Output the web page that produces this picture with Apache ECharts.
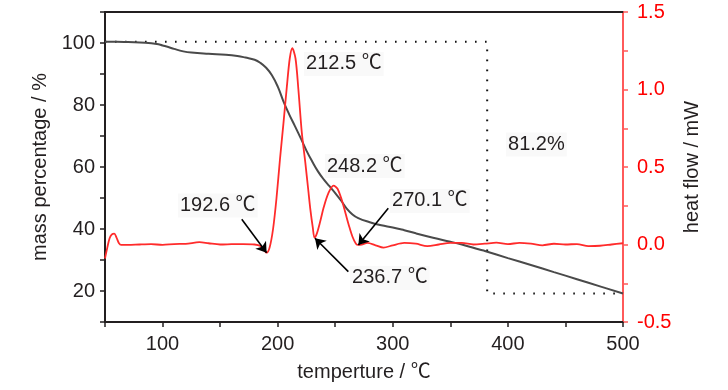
<!DOCTYPE html>
<html><head><meta charset="utf-8">
<script src="https://cdn.jsdelivr.net/npm/echarts@6/dist/echarts.min.js"></script>
<style>html,body{margin:0;padding:0;background:#fff}#c{width:728px;height:390px}</style>
</head><body><div id="c"></div>
<script>
// TG curve (mass percentage vs temperature)
const tgTemp = [50,60,70,85,95,100,105,110,118,125,140,155,165,172,180,185,190,195,200,205,210,215,220,225,230,235,240,245,250,255,260,265,270,280,290,300,310,320,335,350,360,376,380,400,420,440,460,480,500];
const tgMass = [100.4,100.4,100.3,100.1,99.7,99.2,98.7,98.1,97.3,96.9,96.5,96.2,95.8,95.3,94.6,93.6,92.0,89.6,86.0,81.2,77.0,73.2,69.3,65.3,61.8,58.6,56.0,53.8,51.6,49.2,46.6,44.7,43.5,42.2,41.2,40.5,39.6,38.6,37.2,35.9,35.0,33.3,32.9,30.6,28.4,26.1,23.8,21.5,19.2];
// DSC curve (heat flow vs temperature)
const dscTemp = [50,52,54,56,58,60,62,64,70,80,90,100,110,120,132,140,150,160,170,180,185,188,190.5,193,196,199,202,205,208,210.5,212.7,215.5,218,221,224,226.6,228.5,230.5,232,234,237,240,244,248.5,252,256,259,262,265,268,270,273,278,285,292,300,310,320,330,340,350,360,370,380,390,400,410,420,430,440,450,460,470,480,490,500];
const dscHeat = [-0.09,-0.02,0.04,0.065,0.07,0.045,0.01,-0.003,-0.003,0.0,0.002,-0.002,0.003,0.004,0.015,0.008,0.0,0.002,0.003,0.0,-0.01,-0.035,-0.053,-0.02,0.1,0.3,0.55,0.78,1.02,1.2,1.266,1.2,1.0,0.72,0.53,0.35,0.22,0.11,0.044,0.07,0.15,0.24,0.33,0.38,0.36,0.28,0.2,0.12,0.05,0.005,-0.003,0.0,0.01,-0.005,-0.02,-0.005,0.01,0.005,-0.01,0.0,0.01,0.01,0.0,0.005,0.012,0.003,0.01,0.005,-0.005,0.005,0.0,0.003,-0.01,-0.008,0.0,0.008];
// mass-loss bracket: start mass, end mass, step temperature
const lossStart = 100.4, lossEnd = 19.2, lossStepTemp = 382, tStart = 50, tEnd = 500;
// annotation texts
const peakLabels = ['212.5 ℃','248.2 ℃','192.6 ℃','270.1 ℃','236.7 ℃'];
const lossLabel = '81.2%';
// axis tick labels
const xTickLabels = [100,200,300,400,500];
const massTickLabels = [20,40,60,80,100];
const heatTickLabels = [-0.5,0.0,0.5,1.0,1.5];

const FONT = '"Liberation Sans", Arial, "Noto Sans CJK SC", sans-serif';
const TXT = '#231f20';
const chart = echarts.init(document.getElementById('c'), null, {renderer:'canvas'});

const tgData = tgTemp.map((t,i)=>[t,tgMass[i]]);
const dscData = dscTemp.map((t,i)=>[t,dscHeat[i]]);
const lossData = [[tStart,lossStart],[lossStepTemp,lossStart],[lossStepTemp,lossEnd],[tEnd,lossEnd]];

const textPos = [[222.9,1.165],[241.1,0.506],[113.4,0.252],[297.6,0.281],[262.9,-0.216]];
const arrows = [
  [[168.8,0.163],[190.4,-0.053]],
  [[261.4,-0.175],[232.4,0.040]],
  [[296.1,0.234],[270.1,-0.003]]
];
const labelStyle = {show:true, position:'right', distance:0, formatter:p=>p.name, fontSize:20, color:TXT, fontFamily:FONT, backgroundColor:'#f9f9f9', padding:[2,2]};

const option = {
  animation:false,
  backgroundColor:'#ffffff',
  grid:{left:105,right:105,top:12,bottom:68},
  xAxis:[{
    type:'value', min:50, max:500, interval:50,
    name:'temperture / ℃', nameLocation:'middle', nameGap:40,
    nameTextStyle:{fontFamily:FONT,fontSize:20,color:TXT},
    axisLine:{onZero:false,lineStyle:{color:'#231f20',width:2}},
    axisTick:{inside:false,length:5,lineStyle:{color:'#231f20',width:1.5}},
    axisLabel:{fontFamily:FONT,fontSize:20,color:TXT,margin:12,
      formatter:v=>xTickLabels.includes(v)?String(v):''},
    splitLine:{show:false}
  },{
    type:'value', position:'top', min:50, max:500,
    axisLine:{show:true,onZero:false,lineStyle:{color:'#231f20',width:2}},
    axisTick:{show:false}, axisLabel:{show:false}, splitLine:{show:false}
  }],
  yAxis:[{
    type:'value', min:10, max:110, interval:10, position:'left',
    name:'mass percentage / %', nameLocation:'middle', nameGap:55, nameRotate:90,
    nameTextStyle:{fontFamily:FONT,fontSize:20,color:TXT},
    axisLine:{show:true,onZero:false,lineStyle:{color:'#231f20',width:2}},
    axisTick:{show:true,inside:false,length:5,lineStyle:{color:'#231f20',width:1.5}},
    axisLabel:{fontFamily:FONT,fontSize:20,color:TXT,margin:10,
      formatter:v=>massTickLabels.includes(v)?String(v):''},
    splitLine:{show:false}
  },{
    type:'value', min:-0.5, max:1.5, interval:0.25, position:'right',
    name:'heat flow / mW', nameLocation:'middle', nameGap:59, nameRotate:90,
    nameTextStyle:{fontFamily:FONT,fontSize:20,color:TXT},
    axisLine:{show:true,onZero:false,lineStyle:{color:'#ff5a5a',width:2}},
    axisTick:{show:true,inside:false,length:5,lineStyle:{color:'#ff5a5a',width:1.5}},
    axisLabel:{fontFamily:FONT,fontSize:20,color:'#ff0000',margin:14,
      formatter:v=>{const m=heatTickLabels.find(h=>Math.abs(h-v)<1e-9);return m===undefined?'':m.toFixed(1);}},
    splitLine:{show:false}
  }],
  series:[{
    type:'line', name:'loss', xAxisIndex:0, yAxisIndex:0, data:lossData, symbol:'none',
    lineStyle:{color:'#111',width:2,type:[1.6,8.4]}, silent:true, z:1
  },{
    type:'line', name:'TG', xAxisIndex:0, yAxisIndex:0, data:tgData, symbol:'none', smooth:0.45,
    lineStyle:{color:'#4a4a4a',width:2}, z:2
  },{
    type:'line', name:'DSC', xAxisIndex:0, yAxisIndex:1, data:dscData, symbol:'none', smooth:0.3,
    lineStyle:{color:'#ff2b2b',width:1.8}, z:3,
    markLine:{
      silent:true, symbol:['none','arrow'], symbolSize:10, animation:false,
      lineStyle:{color:'#000',width:1.6,type:'solid'}, label:{show:false},
      data: arrows.map(a=>[{coord:a[0]},{coord:a[1]}])
    },
    markPoint:{
      silent:true, symbol:'circle', symbolSize:0, animation:false,
      label:labelStyle,
      data: peakLabels.map((s,i)=>({name:s, coord:textPos[i]})).concat([{name:lossLabel, coord:[398.4,0.645]}])
    }
  }]
};
chart.setOption(option);
</script></body></html>
